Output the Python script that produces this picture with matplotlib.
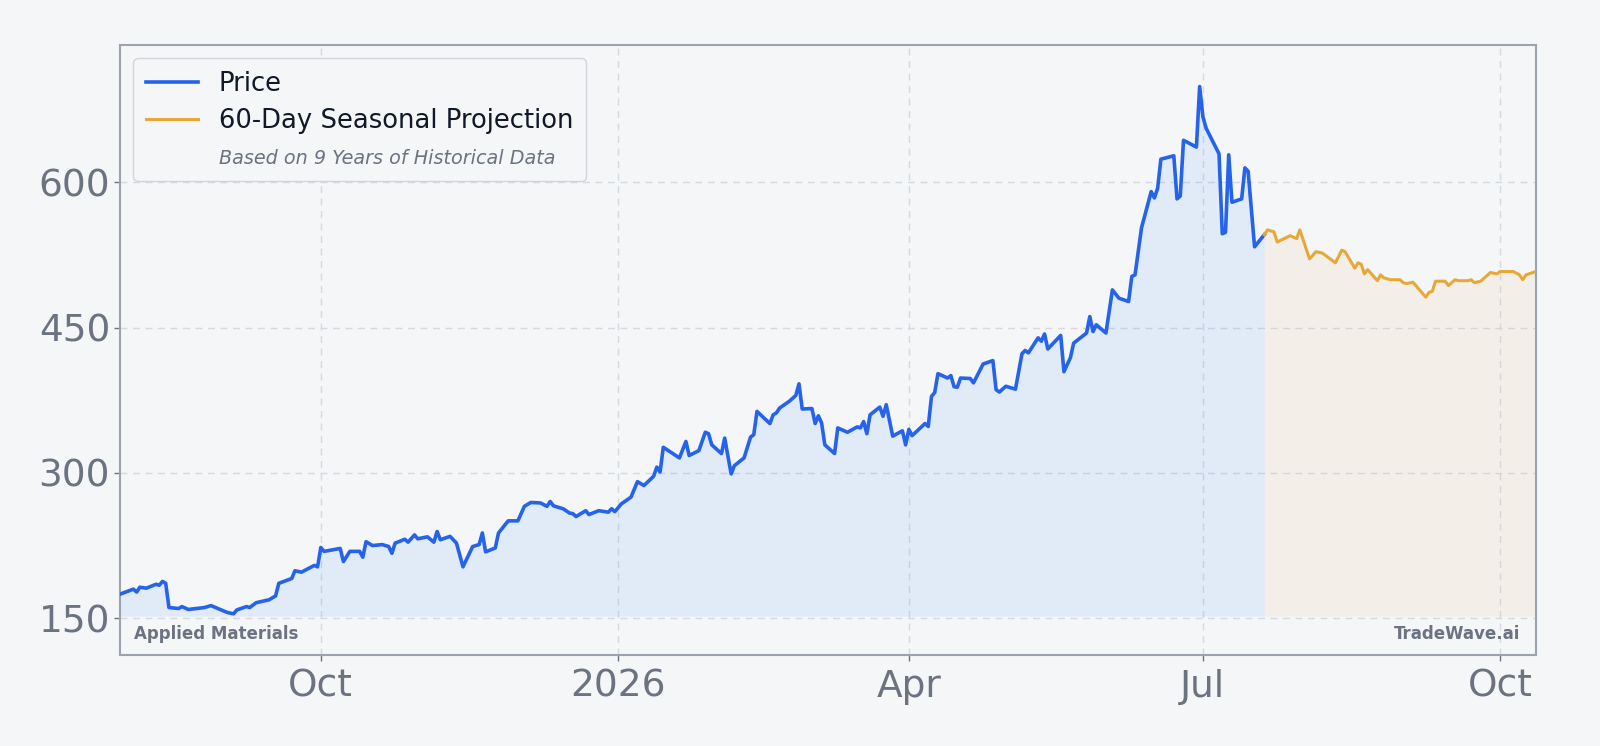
# seasonal_projection_chart.py ----
# Price history with a 60-day seasonal projection

import pandas as pd
import matplotlib
matplotlib.use('Agg')
import matplotlib.pyplot as plt
import matplotlib.dates as mdates
from matplotlib.lines import Line2D

# Data ----
price_dates = [
    '2025-07-31', '2025-08-04', '2025-08-05', '2025-08-06', '2025-08-08', '2025-08-11',
    '2025-08-12', '2025-08-13', '2025-08-14', '2025-08-15', '2025-08-18', '2025-08-19',
    '2025-08-21', '2025-08-26', '2025-08-28', '2025-09-02', '2025-09-04', '2025-09-05',
    '2025-09-08', '2025-09-09', '2025-09-11', '2025-09-15', '2025-09-17', '2025-09-18',
    '2025-09-22', '2025-09-23', '2025-09-25', '2025-09-29', '2025-09-30', '2025-10-01',
    '2025-10-02', '2025-10-07', '2025-10-08', '2025-10-10', '2025-10-13', '2025-10-14',
    '2025-10-15', '2025-10-17', '2025-10-20', '2025-10-22', '2025-10-23', '2025-10-24',
    '2025-10-27', '2025-10-28', '2025-10-30', '2025-10-31', '2025-11-03', '2025-11-05',
    '2025-11-06', '2025-11-07', '2025-11-10', '2025-11-12', '2025-11-14', '2025-11-17',
    '2025-11-19', '2025-11-20', '2025-11-21', '2025-11-24', '2025-11-25', '2025-11-28',
    '2025-12-01', '2025-12-03', '2025-12-05', '2025-12-08', '2025-12-10', '2025-12-11',
    '2025-12-12', '2025-12-15', '2025-12-17', '2025-12-18', '2025-12-19', '2025-12-22',
    '2025-12-23', '2025-12-26', '2025-12-29', '2025-12-30', '2025-12-31', '2026-01-02',
    '2026-01-05', '2026-01-07', '2026-01-09', '2026-01-12', '2026-01-13', '2026-01-14',
    '2026-01-15', '2026-01-20', '2026-01-22', '2026-01-23', '2026-01-26', '2026-01-28',
    '2026-01-29', '2026-01-30', '2026-02-02', '2026-02-03', '2026-02-05', '2026-02-06',
    '2026-02-09', '2026-02-11', '2026-02-12', '2026-02-13', '2026-02-17', '2026-02-18',
    '2026-02-19', '2026-02-20', '2026-02-23', '2026-02-25', '2026-02-26', '2026-02-27',
    '2026-03-02', '2026-03-03', '2026-03-04', '2026-03-05', '2026-03-06', '2026-03-09',
    '2026-03-10', '2026-03-13', '2026-03-16', '2026-03-17', '2026-03-18', '2026-03-19',
    '2026-03-20', '2026-03-23', '2026-03-24', '2026-03-25', '2026-03-27', '2026-03-30',
    '2026-03-31', '2026-04-01', '2026-04-02', '2026-04-06', '2026-04-07', '2026-04-08',
    '2026-04-09', '2026-04-10', '2026-04-13', '2026-04-14', '2026-04-15', '2026-04-16',
    '2026-04-17', '2026-04-20', '2026-04-21', '2026-04-24', '2026-04-27', '2026-04-28',
    '2026-04-29', '2026-05-01', '2026-05-04', '2026-05-06', '2026-05-07', '2026-05-08',
    '2026-05-11', '2026-05-12', '2026-05-13', '2026-05-14', '2026-05-18', '2026-05-19',
    '2026-05-21', '2026-05-22', '2026-05-26', '2026-05-27', '2026-05-28', '2026-05-29',
    '2026-06-01', '2026-06-03', '2026-06-05', '2026-06-08', '2026-06-09', '2026-06-10',
    '2026-06-12', '2026-06-15', '2026-06-16', '2026-06-17', '2026-06-18', '2026-06-22',
    '2026-06-23', '2026-06-24', '2026-06-25', '2026-06-29', '2026-06-30', '2026-07-01',
    '2026-07-02', '2026-07-06', '2026-07-07', '2026-07-08', '2026-07-09', '2026-07-10',
    '2026-07-13', '2026-07-14', '2026-07-15', '2026-07-17', '2026-07-20',
]
price_values = [
    175, 180, 177, 182, 181, 185,
    184, 188, 186, 161, 160, 162,
    159, 161, 163, 156, 154.5, 158.5,
    162, 161, 166, 169, 173, 186,
    191, 199, 197.5, 204.5, 203, 223,
    219, 222, 208.5, 219, 219, 213,
    229, 225, 226, 224, 217, 227.5,
    231.5, 228.5, 236, 232, 234, 228.5,
    239.5, 231, 234.5, 227.5, 203, 224,
    226, 238, 218.5, 222.5, 238, 250.5,
    250.5, 265.5, 269.5, 269, 265.5, 270.5,
    266, 263, 258.5, 258, 255, 261,
    257, 261, 259.5, 263, 260, 268,
    275, 291, 287, 296.5, 306, 301,
    326.5, 315.5, 332.5, 318, 323, 342,
    340.5, 329, 320, 336, 299, 307.5,
    315.5, 337, 339.5, 363.5, 351, 360,
    362, 367, 374, 380, 392, 366,
    366.5, 351, 359, 351.5, 329, 320,
    346.5, 342, 347.5, 346.5, 353, 340.5,
    360, 368, 358.5, 370.5, 338, 343.5,
    329, 345, 338.5, 351, 348, 379,
    383, 402.5, 398, 400.5, 389, 388.5,
    398, 397.5, 393, 412.5, 416, 386,
    383.5, 389.5, 386.5, 423, 426.5, 424,
    439.5, 436, 443.5, 428, 442, 404.5,
    419, 434, 444.5, 461.5, 446, 453,
    444.5, 489, 480.5, 477, 503, 504.5,
    553, 590.5, 584, 594, 624, 627.5,
    583, 586, 643.5, 636.5, 699, 668,
    656, 629.5, 547, 548.5, 628.5, 579.5,
    583, 615, 611.5, 533.5, 546,
]

proj_dates = [
    '2026-07-20', '2026-07-21', '2026-07-23', '2026-07-24', '2026-07-28', '2026-07-30',
    '2026-07-31', '2026-08-03', '2026-08-05', '2026-08-07', '2026-08-11', '2026-08-13',
    '2026-08-14', '2026-08-17', '2026-08-18', '2026-08-19', '2026-08-20', '2026-08-21',
    '2026-08-24', '2026-08-25', '2026-08-26', '2026-08-28', '2026-08-31', '2026-09-01',
    '2026-09-02', '2026-09-04', '2026-09-08', '2026-09-09', '2026-09-10', '2026-09-11',
    '2026-09-14', '2026-09-15', '2026-09-17', '2026-09-18', '2026-09-21', '2026-09-22',
    '2026-09-23', '2026-09-25', '2026-09-28', '2026-09-30', '2026-10-01', '2026-10-05',
    '2026-10-07', '2026-10-08', '2026-10-09', '2026-10-12',
]
proj_values = [
    546, 551, 549, 538.5, 545, 542,
    551, 521, 528.5, 527, 517, 530,
    528.5, 511.5, 517, 515.5, 505.5, 510,
    498.5, 504.5, 501.5, 499.5, 499.5, 496.5,
    495.5, 497, 481.5, 486.5, 487.5, 498,
    498, 493.5, 499.5, 498.5, 498.5, 499.5,
    496.5, 498, 507, 505.5, 508, 508,
    504.5, 499.5, 504.5, 508,
]

y_ticks = [150, 300, 450, 600]
ticker_name = 'Applied Materials'
brand = 'TradeWave.ai'

price_x = pd.to_datetime(price_dates)
proj_x = pd.to_datetime(proj_dates)

# Colours ----
bg = '#f4f6f8'
blue = '#2563eb'
fill_blue = '#3b82f6'
orange = '#e8a838'
grey_text = '#6b7280'
grid_col = '#d5d9e0'

# Plot ----
fig = plt.figure(figsize=(16, 7.46), dpi=100, facecolor=bg)
ax = fig.add_axes([0.0753, 0.122, 0.8845, 0.8178])
ax.set_facecolor(bg)

base = min(price_values) * 0.985
ax.fill_between(price_x, price_values, base, color=fill_blue, alpha=0.1, linewidth=0)
ax.fill_between(proj_x, proj_values, base, color=orange, alpha=0.08, linewidth=0)

ax.plot(price_x, price_values, color=blue, linewidth=2.6, label='Price', zorder=3)
ax.plot(proj_x, proj_values, color=orange, linewidth=2.2, label='60-Day Seasonal Projection', zorder=3)

# Axes ----
ax.set_xlim(price_x[0], proj_x[-1])
ax.set_ylim(112, 742)
ax.set_yticks(y_ticks)

ax.xaxis.set_major_locator(mdates.MonthLocator(bymonth=(1, 4, 7, 10)))
ax.xaxis.set_major_formatter(matplotlib.ticker.FuncFormatter(
    lambda v, pos: mdates.num2date(v).strftime('%Y') if mdates.num2date(v).month == 1
    else mdates.num2date(v).strftime('%b')))

ax.tick_params(axis='both', labelsize=27, colors=grey_text, length=4, width=1)
ax.tick_params(axis='x', pad=6)
ax.grid(True, linestyle='--', color=grid_col, linewidth=1.0, dashes=(5, 4))
ax.set_axisbelow(True)

for spine in ax.spines.values():
    spine.set_color('#9ca3af')
    spine.set_linewidth(1.5)

# Legend ----
note = Line2D([], [], linestyle='none', marker=None)
handles, labels = ax.get_legend_handles_labels()
handles.append(note)
labels.append('Based on 9 Years of Historical Data')
leg = ax.legend(handles, labels, loc='upper left', fontsize=18.6, frameon=True,
                facecolor=bg, edgecolor='#d1d5db', framealpha=1.0,
                labelspacing=0.45, borderpad=0.5)
leg.get_frame().set_linewidth(1.0)
for t in leg.get_texts()[:2]:
    t.set_color('#111827')
note_txt = leg.get_texts()[2]
note_txt.set_fontsize(13.8)
note_txt.set_fontstyle('italic')
note_txt.set_color(grey_text)

# Watermarks ----
ax.text(0.0094, 0.035, ticker_name, transform=ax.transAxes, fontsize=12,
        fontweight='bold', color=grey_text, ha='left', va='center')
ax.text(0.989, 0.035, brand, transform=ax.transAxes, fontsize=12,
        fontweight='bold', color=grey_text, ha='right', va='center')

fig.savefig('out.png', dpi=100, facecolor=bg)
